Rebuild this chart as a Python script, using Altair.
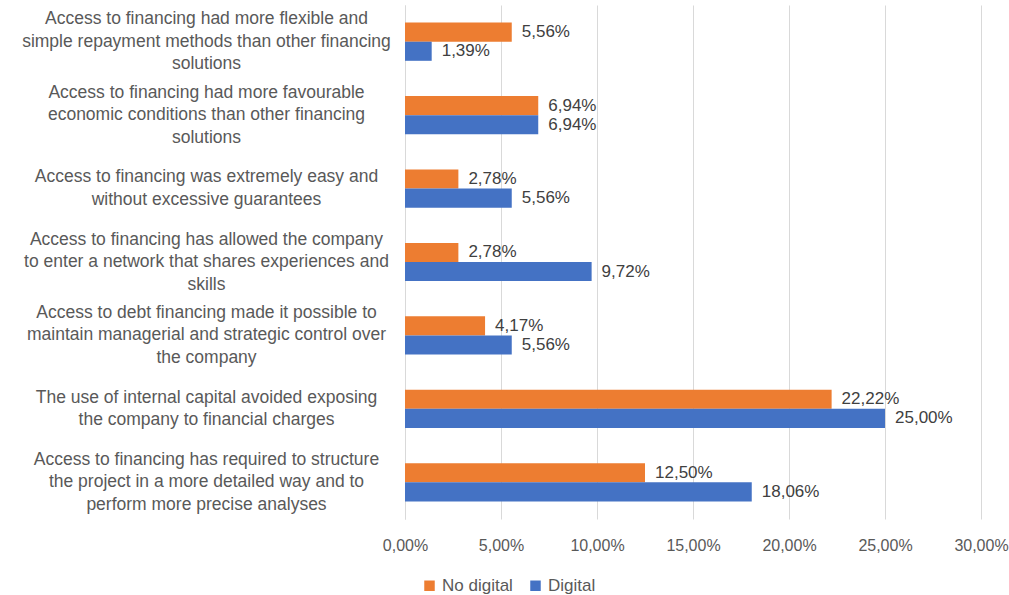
import altair as alt
import pandas as pd

categories = [
    "Access to financing had more flexible and|simple repayment methods than other financing|solutions",
    "Access to financing had more favourable|economic conditions than other financing|solutions",
    "Access to financing was extremely easy and|without excessive guarantees",
    "Access to financing has allowed the company|to enter a network that shares experiences and|skills",
    "Access to debt financing made it possible to|maintain managerial and strategic control over|the company",
    "The use of internal capital avoided exposing|the company to financial charges",
    "Access to financing has required to structure|the project in a more detailed way and to|perform more precise analyses",
]
no_digital = [5.56, 6.94, 2.78, 2.78, 4.17, 22.22, 12.50]
digital = [1.39, 6.94, 5.56, 9.72, 5.56, 25.00, 18.06]
series = ["No digital", "Digital"]
x_ticks = [0, 5, 10, 15, 20, 25, 30]

rows = []
for c, a, b in zip(categories, no_digital, digital):
    rows.append({"category": c, "series": "No digital", "value": a,
                 "label": f"{a:.2f}%".replace(".", ",")})
    rows.append({"category": c, "series": "Digital", "value": b,
                 "label": f"{b:.2f}%".replace(".", ",")})
df = pd.DataFrame(rows)

FONT = "Liberation Sans"

y_enc = alt.Y("category:N", sort=categories, title=None,
              scale=alt.Scale(paddingInner=0.48, paddingOuter=0.24),
              axis=alt.Axis(labelExpr="split(datum.label, '|')", labelAlign="center",
                            labelBaseline="middle", labelPadding=199, ticks=False,
                            labelOffset={"condition": {"test": "length(split(datum.value, '|')) == 3",
                                                       "value": -22.5},
                                         "value": -11.25},
                            labelLineHeight=22.5, labelFontSize=17.5, labelColor="#595959",
                            labelFont=FONT, domainColor="#d9d9d9", labelLimit=0))
yoff = alt.YOffset("series:N", sort=series, scale=alt.Scale(paddingInner=0, paddingOuter=0))

base = alt.Chart(df)

bars = base.mark_bar().encode(
    x=alt.X("value:Q", title=None,
            scale=alt.Scale(domain=[0, 30], nice=False),
            axis=alt.Axis(values=x_ticks, labelExpr="replace(format(datum.value, '.2f'), '.', ',') + '%'",
                          domain=False, ticks=False, grid=True, gridColor="#d9d9d9",
                          labelFlush=False, labelOverlap=False,
                          labelFontSize=16, labelColor="#595959", labelFont=FONT,
                          labelPadding=18)),
    y=y_enc,
    yOffset=yoff,
    color=alt.Color("series:N", sort=series,
                    scale=alt.Scale(domain=series, range=["#ED7D31", "#4472C4"]),
                    legend=alt.Legend(title=None, orient="none", legendX=16, legendY=572,
                                      direction="horizontal", symbolType="square",
                                      symbolSize=110, symbolStrokeWidth=0,
                                      labelFontSize=17, labelColor="#595959", labelFont=FONT,
                                      columnPadding=14, labelOffset=4)),
)

texts = base.mark_text(align="left", baseline="middle", dx=10, fontSize=17,
                       color="#404040", font=FONT).encode(
    x="value:Q",
    y=alt.Y("category:N", sort=categories),
    yOffset=yoff,
    text="label:N",
)

chart = alt.layer(bars, texts).properties(
    width=576, height=514,
    autosize=alt.AutoSizeParams(type="none"),
    padding={"left": 405, "top": 5, "right": 28, "bottom": 76},
).configure_view(stroke=None)

chart.save("out.html", embed_options={"renderer": "svg", "actions": False})
